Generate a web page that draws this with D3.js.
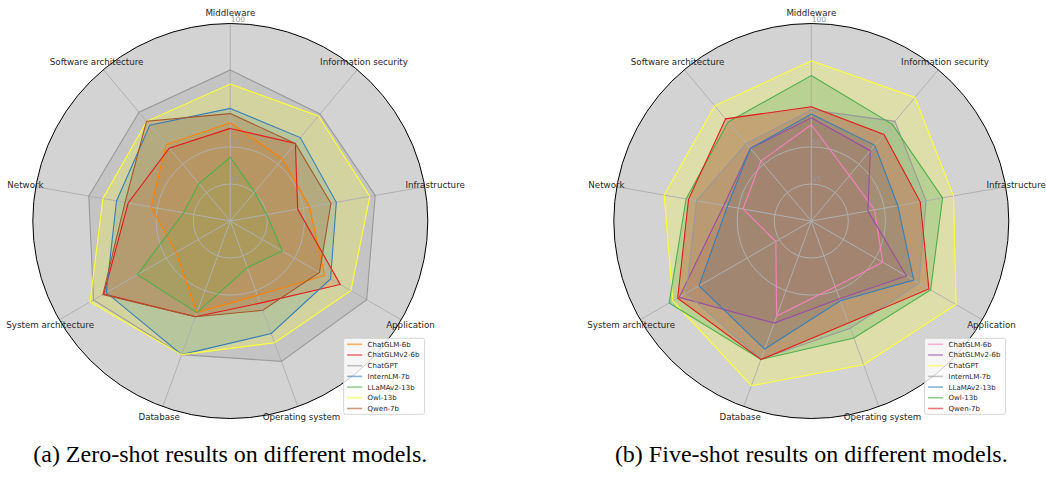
<!DOCTYPE html>
<html>
<head>
<meta charset="utf-8">
<script src="https://cdn.jsdelivr.net/npm/d3@7/dist/d3.min.js"></script>
<style>
  body { margin: 0; background: #fff; }
  svg { display: block; }
</style>
</head>
<body>
<div id="chart"></div>
<script>
// categories go clockwise starting at the top
const categories = ["Middleware", "Information security", "Infrastructure", "Application",
  "Operating system", "Database", "System architecture", "Network", "Software architecture"];
const models = ["ChatGLM-6b", "ChatGLMv2-6b", "ChatGPT", "InternLM-7b", "LLaMAv2-13b", "Owl-13b", "Qwen-7b"];
const radialTicks = [35, 50, 100];

// one row per model (same order as models), one value per category
const zeroShotScores = [
  [59.8, 52.8, 52.6, 64.1, 52.0, 59.5, 45.4, 52.6, 60.4],
  [57.5, 61.0, 47.7, 71.4, 55.4, 61.3, 79.2, 62.0, 58.5],
  [81.2, 76.6, 79.6, 83.8, 80.5, 77.6, 84.0, 78.2, 77.5],
  [65.6, 64.1, 63.6, 66.9, 68.5, 77.6, 78.0, 66.8, 70.7],
  [45.8, 35.3, 35.0, 44.3, 40.1, 59.5, 63.5, 39.2, 39.8],
  [75.5, 75.5, 77.4, 76.4, 72.5, 77.6, 85.6, 72.4, 72.7],
  [63.5, 61.0, 61.4, 61.7, 58.5, 61.3, 79.6, 63.3, 72.8]
];
const fiveShotScores = [
  [59.0, 44.0, 46.0, 53.4, 48.3, 61.0, 36.6, 48.1, 51.7],
  [61.8, 57.2, 43.3, 64.5, 53.5, 64.0, 81.8, 56.0, 58.4],
  [84.9, 85.3, 78.5, 87.7, 82.0, 91.0, 84.8, 80.5, 80.9],
  [65.0, 72.7, 67.2, 70.4, 66.2, 79.5, 78.5, 67.2, 61.0],
  [63.3, 60.0, 55.6, 67.9, 54.4, 75.2, 72.5, 54.5, 58.4],
  [78.9, 71.1, 74.0, 75.8, 70.4, 79.7, 86.5, 71.5, 72.4],
  [66.3, 65.8, 64.8, 75.0, 64.0, 79.7, 82.5, 70.5, 74.0]
];

const zeroShotColors = ["#ff7f00", "#e41a1c", "#999999", "#377eb8", "#4daf4a", "#ffff33", "#a65628"];
const fiveShotColors = ["#f781bf", "#984ea3", "#ffff33", "#999999", "#377eb8", "#4daf4a", "#e41a1c"];
const captions = ["(a) Zero-shot results on different models.", "(b) Five-shot results on different models."];

var width = 1046, height = 491;
var R = 197.5;

var svg = d3.select("#chart")
  .append("svg")
  .attr("width", width)
  .attr("height", height);

var r = d3.scaleLinear().domain([20, 100]).range([0, R]);
var angle = d3.scaleLinear().domain([0, categories.length]).range([0, 2 * Math.PI]);

function radar(cx, cy, scores, colors, caption) {
  var g = svg.append("g").attr("transform", "translate(" + cx + "," + cy + ")");

  // background disc
  g.append("circle").attr("r", R).attr("fill", "#d3d3d3");

  var line = d3.lineRadial()
    .angle(function (d, i) { return angle(i); })
    .radius(function (d) { return r(d); })
    .curve(d3.curveLinearClosed);

  // fills first
  g.selectAll(".area")
    .data(scores)
    .enter()
    .append("path")
    .attr("d", line)
    .attr("fill", function (d, i) { return colors[i]; })
    .attr("fill-opacity", 0.25)
    .attr("stroke", "none");

  // grid on top of the fills
  g.selectAll(".ring")
    .data(radialTicks.slice(0, -1))
    .enter()
    .append("circle")
    .attr("r", function (d) { return r(d); })
    .attr("fill", "none")
    .attr("stroke", "#b0b0b0")
    .attr("stroke-width", 1);

  g.selectAll(".spoke")
    .data(categories)
    .enter()
    .append("line")
    .attr("x1", 0).attr("y1", 0)
    .attr("x2", function (d, i) { return R * Math.sin(angle(i)); })
    .attr("y2", function (d, i) { return -R * Math.cos(angle(i)); })
    .attr("stroke", "#b0b0b0")
    .attr("stroke-width", 1);

  // outlines
  g.selectAll(".outline")
    .data(scores)
    .enter()
    .append("path")
    .attr("d", line)
    .attr("fill", "none")
    .attr("stroke", function (d, i) { return colors[i]; })
    .attr("stroke-width", 1.1);

  // outer spine
  g.append("circle").attr("r", R).attr("fill", "none").attr("stroke", "#000").attr("stroke-width", 1);

  // radial tick labels
  g.selectAll(".rtick")
    .data(radialTicks)
    .enter()
    .append("text")
    .attr("x", 0.5)
    .attr("y", function (d) { return -r(d) - 1.5; })
    .text(function (d) { return d; })
    .attr("font-family", "DejaVu Sans")
    .attr("font-size", "7.5px")
    .attr("fill", "#999");

  // category labels
  g.selectAll(".cat")
    .data(categories)
    .enter()
    .append("text")
    .attr("x", function (d, i) { return (R + 10.5) * Math.sin(angle(i)); })
    .attr("y", function (d, i) { return -(R + 10.5) * Math.cos(angle(i)); })
    .attr("dy", "0.35em")
    .attr("text-anchor", "middle")
    .attr("font-family", "DejaVu Sans")
    .attr("font-size", "8.7px")
    .attr("fill", "#262626")
    .text(function (d) { return d; });

  // legend
  var lg = g.append("g").attr("transform", "translate(113.3,117.3)");
  lg.append("rect")
    .attr("width", 81).attr("height", 76)
    .attr("rx", 2)
    .attr("fill", "#fff").attr("fill-opacity", 0.8)
    .attr("stroke", "#ccc").attr("stroke-width", 0.8);
  var items = lg.selectAll(".item")
    .data(models)
    .enter()
    .append("g")
    .attr("transform", function (d, i) { return "translate(0," + (6 + i * 10.7) + ")"; });
  items.append("line")
    .attr("x1", 3.5).attr("x2", 18.5)
    .attr("stroke", function (d, i) { return colors[i]; })
    .attr("stroke-width", 1.6)
    .attr("stroke-opacity", 0.6);
  items.append("text")
    .attr("x", 24)
    .attr("dy", "0.35em")
    .attr("font-family", "DejaVu Sans")
    .attr("font-size", "7px")
    .attr("fill", "#262626")
    .text(function (d) { return d; });

  svg.append("text")
    .attr("x", cx)
    .attr("y", 462)
    .attr("text-anchor", "middle")
    .attr("font-family", "Liberation Serif")
    .attr("font-size", "24px")
    .attr("fill", "#000")
    .text(caption);
}

radar(230.3, 221, zeroShotScores, zeroShotColors, captions[0]);
radar(811.3, 221, fiveShotScores, fiveShotColors, captions[1]);
</script>
</body>
</html>
